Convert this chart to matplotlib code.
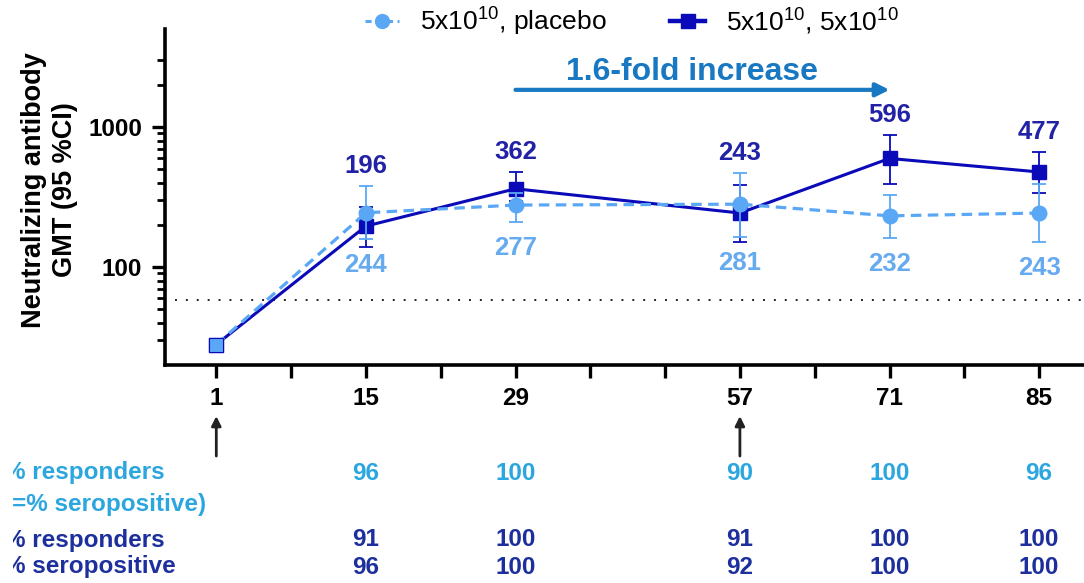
import numpy as np
import matplotlib
matplotlib.use("Agg")
import matplotlib.pyplot as plt
from matplotlib.lines import Line2D
from matplotlib.transforms import Bbox, TransformedBbox, blended_transform_factory

plt.rcParams["font.family"] = ["Liberation Sans", "DejaVu Sans"]
plt.rcParams["mathtext.fontset"] = "custom"
plt.rcParams["mathtext.rm"] = "Liberation Sans"
plt.rcParams["mathtext.it"] = "Liberation Sans:italic"
plt.rcParams["mathtext.bf"] = "Liberation Sans:bold"

# ---- data -------------------------------------------------------------
days = [1, 15, 29, 57, 71, 85]
minor_days = [8, 22, 38.33, 47.67, 64, 78]

placebo_gmt = [28, 244, 277, 281, 232, 243]
placebo_lo = [28, 158, 210, 164, 161, 151]
placebo_hi = [28, 379, 335, 469, 326, 391]

boost_gmt = [28, 196, 362, 243, 596, 477]
boost_lo = [28, 139, 295, 151, 391, 338]
boost_hi = [28, 268, 477, 385, 876, 664]

lloq = 58
dose_days = [1, 57]
fold_from, fold_to = 29, 71
fold_text = "1.6-fold increase"

table_days = [15, 29, 57, 71, 85]
placebo_responders = [96, 100, 90, 100, 96]
boost_responders = [91, 100, 91, 100, 100]
boost_seropositive = [96, 100, 92, 100, 100]

legend_labels = [r"5x10$^{10}$, placebo", r"5x10$^{10}$, 5x10$^{10}$"]

# ---- colours ----------------------------------------------------------
c_light = "#5AA8F5"
c_dark = "#0A0AB8"
c_light_lab = "#66AAF0"
c_dark_lab = "#2222A6"
c_fold = "#1878C2"
c_tab_light = "#2CA6DE"
c_tab_dark = "#1D2F9C"

W, H = 1084, 583
fig = plt.figure(figsize=(W / 100, H / 100), dpi=100)
ax = fig.add_axes([165 / W, 1 - 365 / H, (W - 165) / W, (365 - 29) / H])

# piecewise-linear day axis: visits are spaced evenly by tick slot
bp_days = [-200, 1, 29, 57, 85, 300]
bp_slot = [-201 / 7, 0, 4, 7, 11, 11 + 215 / 7]
ax.set_xscale("function",
              functions=(lambda d: np.interp(d, bp_days, bp_slot),
                         lambda s: np.interp(s, bp_slot, bp_days)))
ax.set_yscale("log")
ax.set_xlim(-3.8, 89.2)
ax.set_ylim(20, 5000)

# lower limit of quantification
ax.axhline(lloq, xmin=10 / (W - 165), xmax=1, color="#222222", lw=1.4,
           linestyle=(0, (1, 4.6)), zorder=1)

# boost series
b_lo = np.array(boost_gmt) - np.array(boost_lo)
b_hi = np.array(boost_hi) - np.array(boost_gmt)
ax.errorbar(days[1:], boost_gmt[1:], yerr=[b_lo[1:], b_hi[1:]], fmt="none",
            ecolor=c_dark, elinewidth=1.3, capsize=5, capthick=1.3, zorder=3)
ax.plot(days, boost_gmt, color=c_dark, lw=2.2, marker="s", ms=10.5,
        mfc=c_dark, mec=c_dark, zorder=4)

# placebo series
p_lo = np.array(placebo_gmt) - np.array(placebo_lo)
p_hi = np.array(placebo_hi) - np.array(placebo_gmt)
ax.errorbar(days[1:], placebo_gmt[1:], yerr=[p_lo[1:], p_hi[1:]], fmt="none",
            ecolor=c_light, elinewidth=1.3, capsize=5, capthick=1.3, zorder=5)
ax.plot(days, placebo_gmt, color=c_light, lw=2.3, linestyle=(0, (3.3, 2)),
        zorder=6)
ax.plot(days[1:], placebo_gmt[1:], linestyle="none", marker="o", ms=10.5,
        mfc=c_light, mec=c_light, zorder=7)
ax.plot(days[:1], placebo_gmt[:1], linestyle="none", marker="s", ms=10.5,
        mfc=c_light, mec=c_dark, mew=0.8, zorder=7)

# value labels
for d, g, hi_b, hi_p in zip(days[1:], boost_gmt[1:], boost_hi[1:], placebo_hi[1:]):
    ax.annotate(f"{g}", xy=(d, max(hi_b, hi_p)), xytext=(0, 6),
                textcoords="offset points", ha="center", va="bottom",
                fontsize=18.5, fontweight="bold", color=c_dark_lab, zorder=8)
for d, g, lo_p in zip(days[1:], placebo_gmt[1:], placebo_lo[1:]):
    ax.annotate(f"{g}", xy=(d, lo_p), xytext=(0, -10),
                textcoords="offset points", ha="center", va="top",
                fontsize=18.5, fontweight="bold", color=c_light_lab, zorder=8)

# fold-increase arrow
ax.annotate("", xy=(fold_to, 1840), xytext=(fold_from, 1840),
            arrowprops=dict(arrowstyle="-|>", color=c_fold, lw=3,
                            mutation_scale=20, shrinkA=0, shrinkB=0))
ax.annotate(fold_text, xy=(fold_from, 2470), xytext=(36, 0),
            textcoords="offset points", ha="left", va="center", fontsize=23,
            fontweight="bold", color=c_fold)

# axes styling
for s in ("top", "right"):
    ax.spines[s].set_visible(False)
for s in ("left", "bottom"):
    ax.spines[s].set_linewidth(2.6)
    ax.spines[s].set_color("black")

ax.set_yticks([100, 1000])
ax.set_yticklabels(["100", "1000"])
ax.set_yticks([30, 40, 50, 60, 70, 80, 90, 200, 300, 400, 500, 600, 700,
               800, 900, 2000, 3000], minor=True)
ax.yaxis.set_minor_formatter(matplotlib.ticker.NullFormatter())
ax.tick_params(axis="y", which="major", length=9.5, width=2.4, pad=7,
               labelsize=17.5)
ax.tick_params(axis="y", which="minor", length=6, width=2.0)

ax.set_xticks(days)
ax.set_xticklabels([str(d) for d in days])
ax.set_xticks(minor_days, minor=True)
ax.xaxis.set_minor_formatter(matplotlib.ticker.NullFormatter())
ax.tick_params(axis="x", which="both", length=9.5, width=2.4, pad=6,
               labelsize=17.5)
for lab in ax.get_xticklabels() + ax.get_yticklabels():
    lab.set_fontweight("bold")

fig.text(50 / W, 1 - 190 / H, "Neutralizing antibody\nGMT (95 %CI)",
         rotation=90, ha="center", va="center", fontsize=19.5,
         fontweight="bold", linespacing=1.25)

# dose arrows under the axis
xax = ax.get_xaxis_transform()
for d in dose_days:
    ax.annotate("", xy=(d, -0.152), xytext=(d, -0.271), xycoords=xax,
                textcoords=xax, annotation_clip=False,
                arrowprops=dict(arrowstyle="-|>", color="#222222", lw=2,
                                mutation_scale=14, shrinkA=0, shrinkB=0))

# response table
tab = blended_transform_factory(ax.transData, fig.transFigure)
rows = [(placebo_responders, 473, c_tab_light),
        (boost_responders, 540, c_tab_dark),
        (boost_seropositive, 567, c_tab_dark)]
for vals, ypix, col in rows:
    for d, v in zip(table_days, vals):
        ax.text(d, 1 - ypix / H, f"{v}", transform=tab, ha="center",
                va="center", fontsize=17.5, fontweight="bold", color=col,
                clip_on=False)

clip = TransformedBbox(Bbox.from_extents(13 / W, 0, 1, 1), fig.transFigure)
row_labels = [("% responders", 473, c_tab_light),
              ("(=% seropositive)", 505, c_tab_light),
              ("% responders", 540, c_tab_dark),
              ("% seropositive", 567, c_tab_dark)]
for txt, ypix, col in row_labels:
    t = fig.text(4 / W, 1 - ypix / H, txt, ha="left", va="center",
                 fontsize=17.5, fontweight="bold", color=col)
    t.set_clip_box(clip)
    t.set_clip_on(True)

# legend
handles = [Line2D([], [], color=c_light, lw=2.2, linestyle=(0, (2, 1.5)),
                  marker="o", ms=10, mfc=c_light, mec=c_light),
           Line2D([], [], color=c_dark, lw=3.2, marker="s", ms=10,
                  mfc=c_dark, mec=c_dark)]
fig.legend(handles, legend_labels, loc="center left",
           bbox_to_anchor=(365 / W, 1 - 22 / H), ncol=2, frameon=False,
           fontsize=19, handlelength=1.3, handletextpad=0.8,
           columnspacing=2.4, borderpad=0, borderaxespad=0)

fig.savefig("out.png", dpi=100)
